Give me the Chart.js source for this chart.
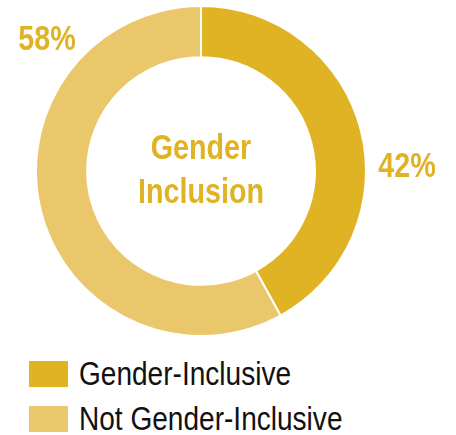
<!DOCTYPE html>
<html>
<head>
<meta charset="utf-8">
<script src="https://cdn.jsdelivr.net/npm/chart.js@4.4.0/dist/chart.umd.min.js"></script>
<style>
  html, body { margin: 0; padding: 0; background: #fff; }
  #wrap { position: relative; width: 456px; height: 435px; overflow: hidden; }
  #chart { position: absolute; left: 0; top: 0; }
  #legend { position: absolute; left: 29px; top: 361px; margin: 0; padding: 0; list-style: none; }
  #legend li { display: flex; align-items: center; height: 26px; margin-bottom: 19px; }
  #legend .box { width: 39px; height: 26px; margin-right: 11px; flex: none; }
  #legend .txt {
    font-family: 'Liberation Sans', Arial, sans-serif;
    font-size: 33px; color: #111; line-height: 26px; white-space: nowrap;
    display: inline-block; transform: scaleX(0.85); transform-origin: left center;
  }
</style>
</head>
<body>
<div id="wrap">
  <canvas id="chart" width="456" height="340"></canvas>
  <ul id="legend"></ul>
</div>
<script>
// Données
const categories = ['Gender-Inclusive', 'Not Gender-Inclusive'];
const shares = [42, 58];
const sliceColors = ['#E0B325', '#EAC76B'];
const centerLines = ['Gender', 'Inclusion'];

const labelFont = "'Liberation Sans', Arial, sans-serif";
const textColor = '#E0B325';
const narrow = 0.82; // police condensée simulée

// texte étroit : on écrase horizontalement
function narrowText(ctx, txt, x, y) {
    ctx.save();
    ctx.translate(x, y);
    ctx.scale(narrow, 1);
    ctx.fillText(txt, 0, 0);
    ctx.restore();
}

// Texte central + pourcentages
const doughnutText = {
    id: 'doughnutText',
    afterDraw(chart) {
        const ctx = chart.ctx;
        const arc = chart.getDatasetMeta(0).data[0];
        const cx = arc.x, cy = arc.y;
        ctx.save();
        ctx.fillStyle = textColor;
        ctx.textAlign = 'center';
        ctx.textBaseline = 'alphabetic';
        ctx.font = 'bold 35px ' + labelFont;
        narrowText(ctx, centerLines[0], cx, cy - 12);
        narrowText(ctx, centerLines[1], cx, cy + 32);

        // étiquettes de pourcentage
        narrowText(ctx, shares[0] + '%', cx + 206, cy + 6);
        narrowText(ctx, shares[1] + '%', cx - 154, cy - 121);
        ctx.restore();
    }
};

const chart = new Chart(document.getElementById('chart'), {
    type: 'doughnut',
    data: {
        labels: categories,
        datasets: [{
            data: shares,
            backgroundColor: sliceColors,
            borderColor: '#ffffff',
            borderWidth: 2
        }]
    },
    options: {
        responsive: false,
        animation: false,
        cutout: '69%',
        layout: { padding: { left: 35, right: 89, top: 5, bottom: 3 } },
        plugins: {
            legend: { display: false },
            tooltip: { enabled: false }
        }
    },
    plugins: [doughnutText]
});

// Légende HTML
const legend = document.getElementById('legend');
categories.forEach((c, i) => {
    legend.innerHTML += `<li><span class="box" style="background:${sliceColors[i]}"></span><span class="txt">${c}</span></li>`;
});
</script>
</body>
</html>
